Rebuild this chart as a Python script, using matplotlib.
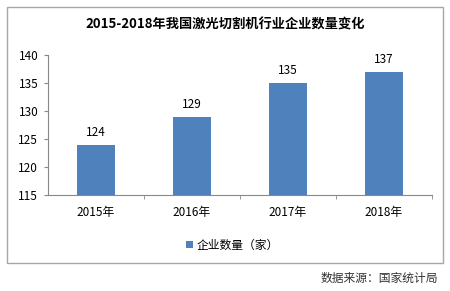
import matplotlib
matplotlib.use('Agg')
from matplotlib import pyplot as plt
from matplotlib.patches import Rectangle

plt.rcParams['font.family'] = ['Noto Sans CJK SC', 'DejaVu Sans']

# данные
years = ['2015年', '2016年', '2017年', '2018年']
counts = [124, 129, 135, 137]
title = '2015-2018年我国激光切割机行业企业数量变化'
series_name = '企业数量（家）'
source = '数据来源：国家统计局'

fig = plt.figure(figsize=(4.5, 2.91), dpi=100)
# рамка вокруг графика
fig.patches.append(Rectangle((7/450, 1-263/291), 436/450, 256/291, transform=fig.transFigure,
                             fill=False, edgecolor='#a6a6a6', linewidth=1))

ax = fig.add_axes([48/450, 1-195/291, 384/450, 140/291])
x = range(len(years))
bars = ax.bar(x, counts, width=0.4, color='#4f81bd', label=series_name)
for xi, v in zip(x, counts):
    ax.text(xi, v + 1.0, str(v), ha='center', va='bottom', fontsize=8.5)

ax.set_ylim(115, 140)
ax.set_yticks([115, 120, 125, 130, 135, 140])
ax.set_xlim(-0.5, 3.5)
ax.set_xticks(list(x))
ax.set_xticklabels(years, fontsize=8.5)
# засечки между категориями
ax.set_xticks([0.5, 1.5, 2.5, 3.5], minor=True)
ax.tick_params(axis='x', which='minor', length=3, color='#888888')
ax.tick_params(axis='y', labelsize=8.5, length=3, color='#888888', pad=4)
ax.tick_params(axis='x', which='major', length=0, pad=8)
for s in ['top', 'right']:
    ax.spines[s].set_visible(False)
ax.spines['left'].set_color('#888888')
ax.spines['bottom'].set_color('#888888')

fig.text(0.5, 1-25/291, title, ha='center', va='center', fontsize=9.5, fontweight='bold')
ax.legend(loc='center', bbox_to_anchor=(232/450, 1-245/291), bbox_transform=fig.transFigure,
          frameon=False, fontsize=8.5, handlelength=0.6, handleheight=0.6, handletextpad=0.3)
fig.text(438/450, 1-278/291, source, ha='right', va='center', fontsize=8.5, color='#333333')

plt.savefig('out.png', dpi=100)
